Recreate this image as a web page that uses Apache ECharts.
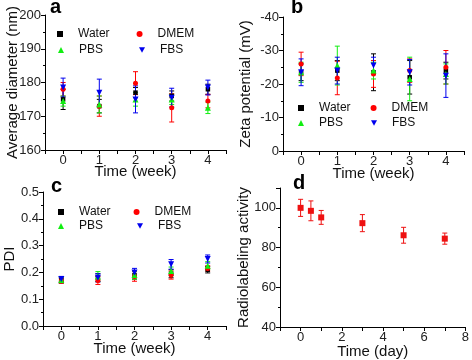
<!DOCTYPE html>
<html><head><meta charset="utf-8">
<script src="https://cdn.jsdelivr.net/npm/echarts@6/dist/echarts.min.js"></script>
<style>html,body{margin:0;padding:0;background:#fff}#c{width:472px;height:360px}</style>
</head><body><div id="c"></div>
<script>
// ---- data ----
const weeks = [0, 1, 2, 3, 4];
const mediaNames = ['Water', 'DMEM', 'PBS', 'FBS'];

const diamWater = [175, 173, 177, 176, 178];
const diamWaterErr = [3, 2, 1.5, 1.5, 1.5];
const diamDMEM = [178, 173, 179.8, 172.5, 174.5];
const diamDMEMErr = [2, 3, 3.4, 4.2, 2];
const diamPBS = [174.5, 173.5, 175, 175, 172.5];
const diamPBSErr = [1.5, 2.5, 2, 1.5, 1.7];
const diamFBS = [178.5, 177, 175, 175.5, 178.5];
const diamFBSErr = [2.8, 4, 4, 2.8, 2.2];

const zetaWater = [-23.5, -24, -23.5, -22, -24];
const zetaWaterErr = [2.5, 3, 5.5, 5, 2.5];
const zetaDMEM = [-26, -21.8, -23, -24, -25];
const zetaDMEMErr = [3.5, 5, 4, 3.5, 5];
const zetaPBS = [-23.5, -25.5, -24, -21.5, -23];
const zetaPBSErr = [3, 5.8, 2.5, 6.5, 3];
const zetaFBS = [-23.5, -24, -25.5, -23.5, -22.5];
const zetaFBSErr = [4, 4, 2.5, 3.8, 6.5];

const pdiWater = [0.17, 0.18, 0.19, 0.195, 0.21];
const pdiWaterErr = [0.01, 0.015, 0.015, 0.015, 0.012];
const pdiDMEM = [0.168, 0.17, 0.185, 0.19, 0.215];
const pdiDMEMErr = [0.008, 0.015, 0.018, 0.015, 0.01];
const pdiPBS = [0.172, 0.185, 0.19, 0.205, 0.225];
const pdiPBSErr = [0.01, 0.018, 0.015, 0.015, 0.015];
const pdiFBS = [0.175, 0.18, 0.2, 0.23, 0.25];
const pdiFBSErr = [0.01, 0.015, 0.015, 0.018, 0.015];

const days = [0, 0.5, 1, 3, 5, 7];
const activity = [100, 98.5, 95.2, 92.3, 86.2, 84.5];
const activityErr = [4.3, 5, 3.5, 4.3, 4, 2.8];

// ---- styling ----
const FONT = '"Liberation Sans", Arial, sans-serif';
const colors = {Water: '#000000', DMEM: '#ff0000', PBS: '#11ee11', FBS: '#0000ee'};
const symbols = {Water: 'rect', DMEM: 'circle', PBS: 'triangle', FBS: 'triangle'};
const symSize = {Water: 4.5, DMEM: 5, PBS: 6, FBS: 6};
const symRot = {Water: 0, DMEM: 0, PBS: 0, FBS: 180};

const option = {
  animation: false,
  backgroundColor: '#fff',
  title: [], grid: [], xAxis: [], yAxis: [], series: [], legend: []
};

function errRender(color) {
  return function (params, api) {
    const x = api.value(0), lo = api.value(1), hi = api.value(2);
    const p1 = api.coord([x, hi]), p2 = api.coord([x, lo]);
    const w = 2.5, st = {stroke: color, lineWidth: 1};
    return {type: 'group', children: [
      {type: 'line', shape: {x1: p1[0], y1: p1[1], x2: p2[0], y2: p2[1]}, style: st},
      {type: 'line', shape: {x1: p1[0] - w, y1: p1[1], x2: p1[0] + w, y2: p1[1]}, style: st},
      {type: 'line', shape: {x1: p2[0] - w, y1: p2[1], x2: p2[0] + w, y2: p2[1]}, style: st}
    ]};
  };
}

function axisCommon() {
  return {
    axisLine: {show: true, onZero: false, lineStyle: {color: '#000', width: 1}},
    axisTick: {show: true, length: 4, lineStyle: {color: '#000'}},
    splitLine: {show: false},
    axisLabel: {color: '#222', fontSize: 13, fontFamily: FONT, margin: 4},
    nameTextStyle: {color: '#111', fontSize: 15, fontFamily: FONT},
    nameLocation: 'middle',
    nameMoveOverlap: false
  };
}

function addPanel(p) {
  const gi = option.grid.length;
  option.grid.push(p.grid);
  option.xAxis.push(Object.assign(axisCommon(), {
    type: 'value', gridIndex: gi, min: p.xmin, max: p.xmax, interval: p.xint,
    name: p.xname, nameGap: p.xgap
  }, p.xextra || {}));
  option.yAxis.push(Object.assign(axisCommon(), {
    type: 'value', gridIndex: gi, min: p.ymin, max: p.ymax, interval: p.yint,
    name: p.yname, nameGap: p.ygap,
    minorTick: {show: true, splitNumber: 2, length: 2, lineStyle: {color: '#000'}}
  }, p.yextra || {}));
  option.yAxis[gi].axisLabel = Object.assign(option.yAxis[gi].axisLabel, p.ylabel || {});
  option.xAxis[gi].axisLabel = Object.assign(option.xAxis[gi].axisLabel, p.xlabel || {});
  p.sets.forEach(s => {
    option.series.push({
      type: 'custom', xAxisIndex: gi, yAxisIndex: gi, silent: true,
      renderItem: errRender(s.color), encode: {x: 0, y: [1, 2]},
      data: s.x.map((xx, i) => [xx, s.y[i] - s.e[i], s.y[i] + s.e[i]]), z: 2
    });
  });
  p.sets.forEach(s => {
    option.series.push({
      type: 'scatter', name: s.name, xAxisIndex: gi, yAxisIndex: gi,
      symbol: s.symbol, symbolSize: s.size, symbolRotate: s.rot,
      itemStyle: {color: s.color, opacity: 1},
      data: s.x.map((xx, i) => [xx, s.y[i]]), z: 3
    });
  });
  option.title.push({text: p.letter, left: p.letterPos[0], top: p.letterPos[1], padding: 0,
    textStyle: {fontSize: 20, fontWeight: 'bold', color: '#000', fontFamily: FONT}});
}

function mediaSets(arrs) {
  return mediaNames.map((n, k) => ({
    name: n, x: weeks, y: arrs[k][0], e: arrs[k][1], color: colors[n],
    symbol: symbols[n], size: symSize[n], rot: symRot[n]
  }));
}

const intOnly = v => (Math.abs(v - Math.round(v)) < 1e-6 ? String(Math.round(v)) : '');
const evenOnly = v => (Math.abs(v % 2) < 1e-6 ? String(v) : '');

addPanel({
  grid: {left: 45, top: 15, width: 181, height: 135},
  xmin: -0.5, xmax: 4.5, xint: 0.5, xname: 'Time (week)', xgap: 14, xlabel: {formatter: intOnly},
  ymin: 160, ymax: 200, yint: 10, yname: 'Average diameter (nm)', ygap: 25,
  letter: 'a', letterPos: [50, -3],
  sets: mediaSets([[diamWater, diamWaterErr], [diamDMEM, diamDMEMErr], [diamPBS, diamPBSErr], [diamFBS, diamFBSErr]])
});
addPanel({
  grid: {left: 283, top: 17, width: 181, height: 134},
  xmin: -0.5, xmax: 4.5, xint: 0.5, xname: 'Time (week)', xgap: 15, xlabel: {formatter: intOnly},
  ymin: -40, ymax: 0, yint: 10, yname: 'Zeta potential (mV)', ygap: 30, yextra: {inverse: true},
  letter: 'b', letterPos: [291, -3],
  sets: mediaSets([[zetaWater, zetaWaterErr], [zetaDMEM, zetaDMEMErr], [zetaPBS, zetaPBSErr], [zetaFBS, zetaFBSErr]])
});
addPanel({
  grid: {left: 43, top: 192, width: 183, height: 134},
  xmin: -0.5, xmax: 4.5, xint: 0.5, xname: 'Time (week)', xgap: 15, xlabel: {formatter: intOnly},
  ymin: 0, ymax: 0.5, yint: 0.1, yname: 'PDI', ygap: 26, ylabel: {formatter: v => v.toFixed(1)},
  letter: 'c', letterPos: [51, 176],
  sets: mediaSets([[pdiWater, pdiWaterErr], [pdiDMEM, pdiDMEMErr], [pdiPBS, pdiPBSErr], [pdiFBS, pdiFBSErr]])
});
addPanel({
  grid: {left: 280, top: 188, width: 186, height: 140},
  xmin: -1, xmax: 8, xint: 1, xname: 'Time (day)', xgap: 17, xlabel: {formatter: evenOnly},
  ymin: 40, ymax: 110, yint: 20, yname: 'Radiolabeling activity', ygap: 29, ylabel: {showMaxLabel: false},
  yextra: {minorTick: {show: true, splitNumber: 2, length: 2, lineStyle: {color: '#000'}}},
  letter: 'd', letterPos: [293, 173],
  sets: [{name: 'Radiolabeling', x: days, y: activity, e: activityErr, color: '#ee1111',
          symbol: 'rect', size: 6, rot: 0}]
});

function legendRow(left, top, names, gap) {
  const icons = {Water: 'rect', DMEM: 'circle', PBS: 'triangle', FBS: 'path://M0,0L10,0L5,9Z'};
  return {
    left: left, top: top, orient: 'horizontal', itemGap: gap, itemWidth: 6, itemHeight: 6,
    padding: 0, selectedMode: false,
    textStyle: {fontSize: 12, color: '#111', fontFamily: FONT, padding: [0, 0, 0, 10]},
    data: names.map(n => ({name: n, icon: icons[n]}))
  };
}
option.legend = [
  legendRow(57, 28, ['Water', 'DMEM'], 27), legendRow(58, 44, ['PBS', 'FBS'], 36),
  legendRow(298, 102, ['Water', 'DMEM'], 20), legendRow(298, 117, ['PBS', 'FBS'], 28),
  legendRow(58, 206, ['Water', 'DMEM'], 23), legendRow(58, 220, ['PBS', 'FBS'], 34)
];

const chart = echarts.init(document.getElementById('c'), null, {renderer: 'canvas'});
chart.setOption(option);
</script></body></html>
